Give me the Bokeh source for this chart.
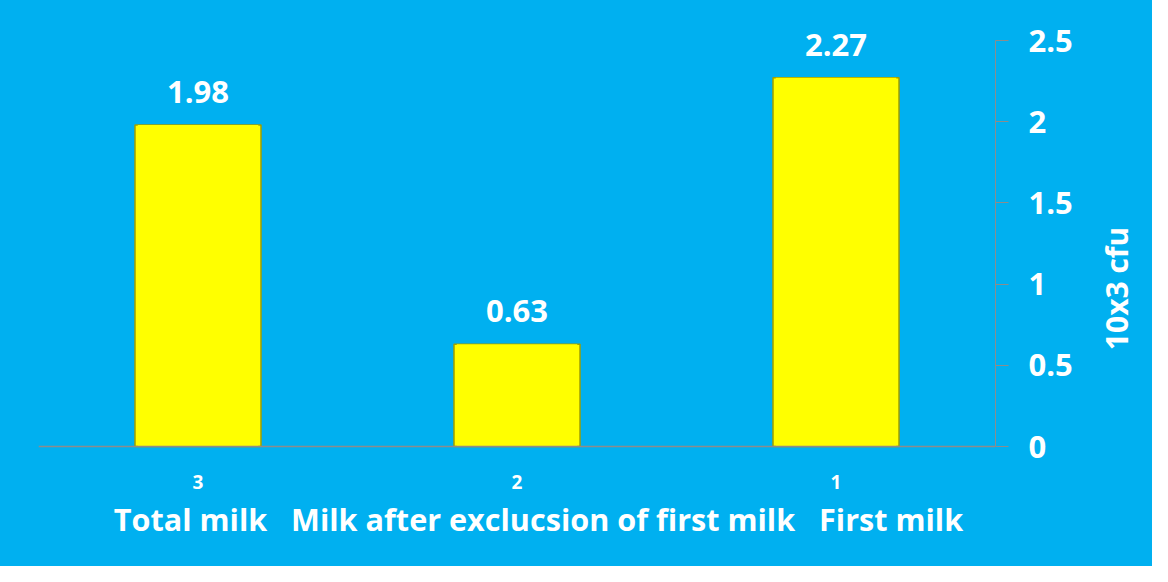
import math
from bokeh.plotting import figure
from bokeh.models import ColumnDataSource, Range1d, FixedTicker, Label, Span
from bokeh.core.properties import value
from bokeh.embed import file_html
from bokeh.resources import INLINE

# ---- data ----
categories = ["3", "2", "1"]
category_names = ["Total milk", "Milk after exclucsion of first milk", "First milk"]
cfu_values = [1.98, 0.63, 2.27]
value_labels = ["1.98", "0.63", "2.27"]
y_ticks = [0, 0.5, 1, 1.5, 2, 2.5]
y_tick_labels = ["0", "0.5", "1", "1.5", "2", "2.5"]
y_title = "10x3 cfu"

BG = "#00B0F0"
FONT = "Open Sans"
W, H = 1152, 566
AXIS_Y = 446          # pixel row of the zero line
PX_PER_UNIT = 406 / 2.5
GAP = "\u00a0" * 3

src = ColumnDataSource(dict(cat=categories, val=cfu_values, lab=value_labels,
                            zero=[0] * len(categories)))

p = figure(x_range=categories,
           y_range=Range1d(-(H - AXIS_Y) / PX_PER_UNIT, AXIS_Y / PX_PER_UNIT),
           width=W, height=H, output_backend="svg", toolbar_location=None,
           y_axis_location="right",
           min_border_left=38, min_border_right=157, min_border_top=0, min_border_bottom=0)
p.styles = {"background-color": BG}
p.background_fill_color = BG
p.border_fill_color = BG
p.outline_line_color = None
p.xgrid.grid_line_color = None
p.ygrid.grid_line_color = None
p.x_range.range_padding = 0
p.xaxis.visible = False

# bars with a bevel-like edge
p.vbar(x="cat", top="val", width=0.395, source=src, fill_color="#FFFF00",
       line_color="#9E9E00", line_width=1.5)
p.vbar(x="cat", top="val", width=0.378, source=src, fill_color="#FFFF00",
       line_color=None)

# category axis line
p.add_layout(Span(location=0, dimension="width", line_color="#8C8C8C", line_width=1.5))

# value labels
p.text(x="cat", y="val", text="lab", source=src, y_offset=-33,
       text_align="center", text_baseline="middle", text_color="white",
       text_font=value(FONT), text_font_style="bold", text_font_size="31px")

# category tick labels
p.text(x="cat", y="zero", text="cat", source=src, y_offset=35,
       text_align="center", text_baseline="middle", text_color="white",
       text_font=value(FONT), text_font_style="bold", text_font_size="19px")

ya = p.yaxis[0]
ya.ticker = FixedTicker(ticks=y_ticks)
ya.bounds = (0, 2.5)
ya.major_label_overrides = {t: l for t, l in zip(y_ticks, y_tick_labels)}
ya.axis_line_color = "#8C8C8C"
ya.major_tick_line_color = "#8C8C8C"
ya.major_tick_out = 13
ya.major_tick_in = 0
ya.minor_tick_line_color = None
ya.major_label_standoff = 20
ya.major_label_text_color = "white"
ya.major_label_text_font = FONT
ya.major_label_text_font_style = "bold"
ya.major_label_text_font_size = "31px"

# vertical axis title, reading bottom-to-top
p.add_layout(Label(x=41, y=H - 288, x_units="screen", y_units="screen",
                   text=y_title, angle=math.pi / 2, text_align="center",
                   text_baseline="middle", text_color="white", text_font=FONT,
                   text_font_style="bold", text_font_size="30px"), "right")

p.add_layout(Label(x=500, y=H - 518, x_units="screen", y_units="screen",
                   text=GAP.join(category_names), text_align="center",
                   text_baseline="middle", text_color="white", text_font=FONT,
                   text_font_style="bold", text_font_size="30.6px"))

open("out.html", "w").write(file_html(p, INLINE))
